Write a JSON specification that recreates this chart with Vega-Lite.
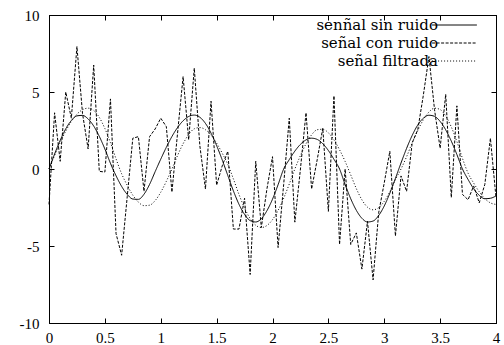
{
  "$schema": "https://vega.github.io/schema/vega-lite/v6.json",
  "width": 447,
  "height": 308,
  "autosize": {"type": "none"},
  "padding": {"left": 49, "top": 15, "right": 8, "bottom": 22},
  "background": "white",
  "data": {"values": [
    {"t":0.00,"senñal sin ruido":0,"señal con ruido":-2.3,"señal filtrada":0},
    {"t":0.05,"senñal sin ruido":0.97,"señal con ruido":3.65,"señal filtrada":0.88},
    {"t":0.10,"senñal sin ruido":1.86,"señal con ruido":0.5,"señal filtrada":1.71},
    {"t":0.15,"senñal sin ruido":2.61,"señal con ruido":5.0,"señal filtrada":2.46},
    {"t":0.20,"senñal sin ruido":3.15,"señal con ruido":3.3,"señal filtrada":3.09},
    {"t":0.25,"senñal sin ruido":3.45,"señal con ruido":7.95,"señal filtrada":3.56},
    {"t":0.30,"senñal sin ruido":3.48,"señal con ruido":3.6,"señal filtrada":3.85},
    {"t":0.35,"senñal sin ruido":3.25,"señal con ruido":1.3,"señal filtrada":3.95},
    {"t":0.40,"senñal sin ruido":2.79,"señal con ruido":6.75,"señal filtrada":3.80},
    {"t":0.45,"senñal sin ruido":2.12,"señal con ruido":-0.15,"señal filtrada":3.35},
    {"t":0.50,"senñal sin ruido":1.30,"señal con ruido":-0.2,"señal filtrada":2.63},
    {"t":0.55,"senñal sin ruido":0.37,"señal con ruido":4.55,"señal filtrada":1.71},
    {"t":0.60,"senñal sin ruido":-0.44,"señal con ruido":-4.2,"señal filtrada":0.66},
    {"t":0.65,"senñal sin ruido":-1.13,"señal con ruido":-5.6,"señal filtrada":-0.31},
    {"t":0.70,"senñal sin ruido":-1.65,"señal con ruido":-1.8,"señal filtrada":-1.06},
    {"t":0.75,"senñal sin ruido":-1.95,"señal con ruido":2.0,"señal filtrada":-1.70},
    {"t":0.80,"senñal sin ruido":-1.97,"señal con ruido":2.1,"señal filtrada":-2.15},
    {"t":0.85,"senñal sin ruido":-1.64,"señal con ruido":-1.45,"señal filtrada":-2.38},
    {"t":0.90,"senñal sin ruido":-1.0,"señal con ruido":2.1,"señal filtrada":-2.35},
    {"t":0.95,"senñal sin ruido":-0.17,"señal con ruido":2.6,"señal filtrada":-2.05},
    {"t":1.00,"senñal sin ruido":0.64,"señal con ruido":3.3,"señal filtrada":-1.51},
    {"t":1.05,"senñal sin ruido":1.41,"señal con ruido":2.75,"señal filtrada":-0.80},
    {"t":1.10,"senñal sin ruido":2.11,"señal con ruido":-1.5,"señal filtrada":0},
    {"t":1.15,"senñal sin ruido":2.69,"señal con ruido":2.3,"señal filtrada":0.87},
    {"t":1.20,"senñal sin ruido":3.13,"señal con ruido":6.0,"señal filtrada":1.64},
    {"t":1.25,"senñal sin ruido":3.41,"señal con ruido":1.9,"señal filtrada":2.24},
    {"t":1.30,"senñal sin ruido":3.5,"señal con ruido":6.55,"señal filtrada":2.61},
    {"t":1.35,"senñal sin ruido":3.36,"señal con ruido":1.5,"señal filtrada":2.69},
    {"t":1.40,"senñal sin ruido":2.96,"señal con ruido":-1.3,"señal filtrada":2.55},
    {"t":1.45,"senñal sin ruido":2.33,"señal con ruido":4.4,"señal filtrada":2.20},
    {"t":1.50,"senñal sin ruido":1.52,"señal con ruido":-1.05,"señal filtrada":1.68},
    {"t":1.55,"senñal sin ruido":0.59,"señal con ruido":0.2,"señal filtrada":1.03},
    {"t":1.60,"senñal sin ruido":-0.42,"señal con ruido":1.15,"señal filtrada":0.30},
    {"t":1.65,"senñal sin ruido":-1.42,"señal con ruido":-3.9,"señal filtrada":-0.64},
    {"t":1.70,"senñal sin ruido":-2.29,"señal con ruido":-3.9,"señal filtrada":-1.65},
    {"t":1.75,"senñal sin ruido":-2.95,"señal con ruido":-1.9,"señal filtrada":-2.53},
    {"t":1.80,"senñal sin ruido":-3.35,"señal con ruido":-6.85,"señal filtrada":-3.22},
    {"t":1.85,"senñal sin ruido":-3.44,"señal con ruido":0.5,"señal filtrada":-3.65},
    {"t":1.90,"senñal sin ruido":-3.23,"señal con ruido":-3.8,"señal filtrada":-3.8},
    {"t":1.95,"senñal sin ruido":-2.71,"señal con ruido":-1.3,"señal filtrada":-3.67},
    {"t":2.00,"senñal sin ruido":-1.96,"señal con ruido":0.8,"señal filtrada":-3.29},
    {"t":2.05,"senñal sin ruido":-1.02,"señal con ruido":-5.1,"señal filtrada":-2.69},
    {"t":2.10,"senñal sin ruido":0,"señal con ruido":-1.0,"señal filtrada":-1.9},
    {"t":2.15,"senñal sin ruido":0.61,"señal con ruido":3.3,"señal filtrada":-0.98},
    {"t":2.20,"senñal sin ruido":1.16,"señal con ruido":-3.45,"señal filtrada":0},
    {"t":2.25,"senñal sin ruido":1.60,"señal con ruido":0.0,"señal filtrada":0.87},
    {"t":2.30,"senñal sin ruido":1.89,"señal con ruido":3.65,"señal filtrada":1.64},
    {"t":2.35,"senñal sin ruido":2.0,"señal con ruido":-1.3,"señal filtrada":2.22},
    {"t":2.40,"senñal sin ruido":1.92,"señal con ruido":0.6,"señal filtrada":2.55},
    {"t":2.45,"senñal sin ruido":1.64,"señal con ruido":2.65,"señal filtrada":2.58},
    {"t":2.50,"senñal sin ruido":1.20,"señal con ruido":-2.75,"señal filtrada":2.35},
    {"t":2.55,"senñal sin ruido":0.63,"señal con ruido":4.75,"señal filtrada":1.89},
    {"t":2.60,"senñal sin ruido":0,"señal con ruido":-4.9,"señal filtrada":1.25},
    {"t":2.65,"senñal sin ruido":-1.01,"señal con ruido":0.0,"señal filtrada":0.49},
    {"t":2.70,"senñal sin ruido":-1.93,"señal con ruido":-4.9,"señal filtrada":-0.38},
    {"t":2.75,"senñal sin ruido":-2.68,"señal con ruido":-4.15,"señal filtrada":-1.27},
    {"t":2.80,"senñal sin ruido":-3.20,"señal con ruido":-6.5,"señal filtrada":-2.0},
    {"t":2.85,"senñal sin ruido":-3.44,"señal con ruido":-3.4,"señal filtrada":-2.48},
    {"t":2.90,"senñal sin ruido":-3.38,"señal con ruido":-7.2,"señal filtrada":-2.65},
    {"t":2.95,"senñal sin ruido":-3.02,"señal con ruido":-2.85,"señal filtrada":-2.51},
    {"t":3.00,"senñal sin ruido":-2.40,"señal con ruido":-0.9,"señal filtrada":-2.10},
    {"t":3.05,"senñal sin ruido":-1.57,"señal con ruido":1.15,"señal filtrada":-1.47},
    {"t":3.10,"senñal sin ruido":-0.61,"señal con ruido":-4.35,"señal filtrada":-0.69},
    {"t":3.15,"senñal sin ruido":0.39,"señal con ruido":-0.45,"señal filtrada":0.0},
    {"t":3.20,"senñal sin ruido":1.34,"señal con ruido":-1.45,"señal filtrada":0.8},
    {"t":3.25,"senñal sin ruido":2.18,"señal con ruido":1.7,"señal filtrada":1.7},
    {"t":3.30,"senñal sin ruido":2.86,"señal con ruido":2.55,"señal filtrada":2.5},
    {"t":3.35,"senñal sin ruido":3.30,"señal con ruido":4.8,"señal filtrada":3.2},
    {"t":3.40,"senñal sin ruido":3.49,"señal con ruido":7.3,"señal filtrada":3.7},
    {"t":3.45,"senñal sin ruido":3.42,"señal con ruido":3.85,"señal filtrada":3.95},
    {"t":3.50,"senñal sin ruido":3.09,"señal con ruido":1.35,"señal filtrada":3.86},
    {"t":3.55,"senñal sin ruido":2.54,"señal con ruido":4.85,"señal filtrada":3.44},
    {"t":3.60,"senñal sin ruido":1.81,"señal con ruido":-1.85,"señal filtrada":2.73},
    {"t":3.65,"senñal sin ruido":0.94,"señal con ruido":4.1,"señal filtrada":1.78},
    {"t":3.70,"senñal sin ruido":0,"señal con ruido":-1.65,"señal filtrada":0.69},
    {"t":3.75,"senñal sin ruido":-0.68,"señal con ruido":-2.0,"señal filtrada":-0.27},
    {"t":3.80,"senñal sin ruido":-1.28,"señal con ruido":-1.1,"señal filtrada":-0.91},
    {"t":3.85,"senñal sin ruido":-1.71,"señal con ruido":-2.2,"señal filtrada":-1.48},
    {"t":3.90,"senñal sin ruido":-1.93,"señal con ruido":-1.0,"señal filtrada":-1.92},
    {"t":3.95,"senñal sin ruido":-1.90,"señal con ruido":2.0,"señal filtrada":-2.2},
    {"t":4.00,"senñal sin ruido":-1.75,"señal con ruido":-1.85,"señal filtrada":-2.3}
  ]},
  "transform": [
    {"fold": ["senñal sin ruido", "señal con ruido", "señal filtrada"], "as": ["serie", "valor"]}
  ],
  "layer": [
    {
      "transform": [{"filter": "datum.serie === 'señal con ruido'"}],
      "mark": {"type": "line", "color": "black", "strokeWidth": 1},
      "encoding": {
        "x": {"field": "t", "type": "quantitative",
              "scale": {"domain": [0, 4], "nice": false, "zero": false},
              "axis": {"orient": "bottom", "title": null, "values": [0, 0.5, 1, 1.5, 2, 2.5, 3, 3.5, 4],
                       "labelExpr": "datum.value + ''", "labelPadding": 12, "labelFlush": false, "labelOverlap": false}},
        "y": {"field": "valor", "type": "quantitative",
              "scale": {"domain": [-10, 10], "nice": false, "zero": false},
              "axis": {"orient": "left", "title": null, "values": [-10, -5, 0, 5, 10],
                       "labelExpr": "datum.value + ''", "labelPadding": 15, "labelOverlap": false}},
        "strokeDash": {"field": "serie", "type": "nominal",
              "scale": {"domain": ["senñal sin ruido", "señal con ruido", "señal filtrada"], "range": [[1, 0], [3, 1.5], [1, 2]]},
              "legend": {"orient": "none", "legendX": 383, "legendY": 2.5, "title": null,
                         "symbolType": "M-3.2,0H3.2", "symbolSize": 196, "symbolStrokeWidth": 1, "symbolStrokeColor": "black",
                         "symbolFillColor": "transparent", "symbolOffset": 15,
                         "labelFont": "DejaVu Serif", "labelFontSize": 15, "labelColor": "black",
                         "labelAlign": "right", "labelBaseline": "middle", "labelOffset": -24,
                         "rowPadding": 2, "padding": 0, "labelLimit": 400}}
      }
    },
    {
      "transform": [{"filter": "datum.serie === 'senñal sin ruido'"}],
      "mark": {"type": "line", "color": "black", "strokeWidth": 1, "interpolate": "monotone"},
      "encoding": {
        "x": {"field": "t", "type": "quantitative",
              "scale": {"domain": [0, 4], "nice": false, "zero": false},
              "axis": {"orient": "top", "title": null, "labels": false, "values": [0, 0.5, 1, 1.5, 2, 2.5, 3, 3.5, 4]}},
        "y": {"field": "valor", "type": "quantitative",
              "scale": {"domain": [-10, 10], "nice": false, "zero": false},
              "axis": {"orient": "right", "title": null, "labels": false, "values": [-10, -5, 0, 5, 10]}},
        "strokeDash": {"field": "serie", "type": "nominal"}
      }
    },
    {
      "transform": [{"filter": "datum.serie === 'señal filtrada'"}],
      "mark": {"type": "line", "color": "black", "strokeWidth": 1, "interpolate": "monotone"},
      "encoding": {
        "x": {"field": "t", "type": "quantitative", "axis": null},
        "y": {"field": "valor", "type": "quantitative", "axis": null},
        "strokeDash": {"field": "serie", "type": "nominal"}
      }
    }
  ],
  "resolve": {"axis": {"x": "independent", "y": "independent"}},
  "config": {
    "view": {"stroke": "black", "strokeWidth": 1},
    "axis": {"domainColor": "black", "domainWidth": 1, "tickColor": "black", "tickWidth": 1, "tickSize": -5,
             "labelColor": "black", "labelFont": "Liberation Serif", "labelFontSize": 15, "grid": false}
  }
}
